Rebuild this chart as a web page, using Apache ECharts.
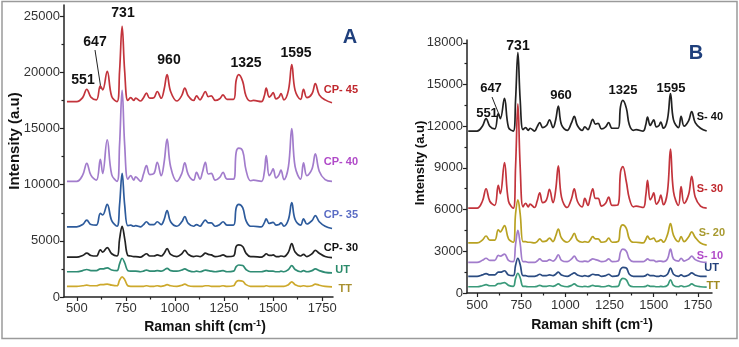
<!DOCTYPE html>
<html>
<head>
<meta charset="utf-8">
<script src="https://cdn.jsdelivr.net/npm/echarts@6/dist/echarts.min.js"></script>
<style>
  html, body { margin: 0; padding: 0; background: #fff; }
  #main { width: 739px; height: 347px; }
</style>
</head>
<body>
<div id="main"></div>
<script>
// Raman shift sample positions (cm-1), shared by every spectrum
var shift = [450, 500, 530, 551, 572, 600, 620, 632, 655, 678, 705, 718, 731, 744, 760, 775, 790, 800, 825, 840,
    855, 872, 893, 910, 930, 945, 960, 978, 1010, 1035, 1050, 1068, 1095, 1110, 1128, 1140, 1155, 1170, 1185, 1205,
    1228, 1245, 1265, 1298, 1312, 1325, 1345, 1362, 1385, 1400, 1440, 1455, 1465, 1480, 1490, 1500, 1515, 1530, 1540, 1555,
    1578, 1595, 1612, 1640, 1655, 1672, 1698, 1715, 1735, 1765, 1800];

// panel A
var cp45 = [17400, 17400, 17750, 18500, 17800, 17550, 18800, 18450, 20100, 17850, 17400, 20100, 24100, 20100, 17500, 17750, 17500, 17700, 17450, 17750,
    18150, 17700, 17750, 18300, 17700, 18500, 19800, 18300, 17450, 17950, 18600, 17900, 17500, 17900, 17550, 17850, 18300, 17850, 17900, 17500,
    17650, 18000, 17600, 17600, 19300, 19800, 19200, 17900, 17450, 17500, 17400, 17900, 18600, 17800, 17950, 18200, 17650, 17800, 18100, 17550,
    18400, 20700, 18400, 17600, 18500, 17750, 18100, 19000, 18000, 17550, 17300];
var cp40 = [10300, 10300, 10850, 11900, 10850, 10400, 12250, 11000, 14000, 10900, 10300, 13550, 18400, 13550, 10500, 10800, 10400, 10700, 10300, 10950,
    11700, 10900, 11000, 12000, 10800, 12000, 14050, 11600, 10300, 11000, 11950, 10900, 10400, 11100, 10500, 11100, 12000, 10950, 11000, 10400,
    10650, 11100, 10500, 10500, 12900, 13250, 13000, 11300, 10350, 10400, 10300, 11100, 12600, 10800, 11050, 11400, 10600, 10900, 11300, 10450,
    11600, 15000, 11600, 10500, 11950, 10800, 11400, 12750, 11200, 10450, 10300];
var cp35 = [6250, 6250, 6450, 6850, 6450, 6400, 7450, 7300, 8250, 6800, 6300, 8200, 11000, 8200, 6350, 6400, 6300, 6350, 6250, 6450,
    6700, 6450, 6450, 6700, 6450, 6900, 7700, 6700, 6300, 6700, 7150, 6550, 6300, 6450, 6300, 6550, 6850, 6600, 6600, 6300,
    6450, 6700, 6400, 6400, 7950, 8250, 7950, 6800, 6300, 6300, 6250, 6600, 6950, 6550, 6600, 6650, 6400, 6450, 6600, 6300,
    6900, 8400, 6900, 6400, 6950, 6500, 6800, 7250, 6700, 6300, 6100];
var cp30 = [3550, 3550, 3700, 3900, 3700, 3650, 4200, 4000, 4400, 3850, 3650, 5150, 6300, 5200, 3700, 3650, 3600, 3600, 3550, 3700,
    3850, 3650, 3650, 3750, 3650, 3900, 4300, 3800, 3600, 3850, 4150, 3800, 3600, 3650, 3600, 3700, 3900, 3800, 3750, 3600,
    3650, 3750, 3600, 3650, 4500, 4650, 4500, 3900, 3600, 3600, 3550, 3700, 3850, 3700, 3700, 3750, 3600, 3600, 3650, 3600,
    4000, 4750, 4000, 3650, 3800, 3600, 3850, 4150, 3900, 3600, 3500];
var utA = [2250, 2250, 2350, 2450, 2350, 2350, 2500, 2500, 2600, 2400, 2350, 2950, 3450, 3050, 2350, 2300, 2300, 2300, 2250, 2300,
    2400, 2300, 2300, 2350, 2300, 2400, 2550, 2350, 2300, 2400, 2500, 2350, 2250, 2300, 2250, 2300, 2400, 2350, 2300, 2250,
    2300, 2350, 2250, 2300, 2700, 2850, 2800, 2450, 2250, 2250, 2250, 2300, 2350, 2300, 2300, 2300, 2250, 2250, 2300, 2250,
    2450, 2800, 2450, 2250, 2350, 2250, 2350, 2500, 2350, 2200, 2150];
var ttA = [950, 950, 1000, 1050, 1000, 1000, 1100, 1100, 1150, 1050, 1000, 1500, 1800, 1550, 1000, 950, 950, 950, 950, 950,
    1000, 950, 950, 1000, 950, 1000, 1100, 1000, 950, 1050, 1150, 1000, 950, 950, 950, 950, 1000, 1000, 950, 950,
    950, 1000, 950, 1000, 1350, 1450, 1400, 1100, 950, 950, 950, 950, 1000, 950, 950, 950, 950, 950, 950, 950,
    1100, 1350, 1100, 950, 1000, 950, 1000, 1150, 1050, 950, 900];

// panel B
var s40 = [11650, 11650, 12000, 12550, 12000, 11800, 12900, 12550, 14000, 11900, 11650, 13900, 17300, 13900, 11750, 11900, 11700, 11850, 11650, 11950,
    12250, 11900, 12050, 12450, 11900, 12450, 13450, 12100, 11700, 12250, 12700, 12050, 11700, 11950, 11750, 12050, 12500, 12150, 12200, 11800,
    11950, 12250, 11850, 11850, 13400, 13850, 13300, 12100, 11700, 11750, 11650, 12100, 12650, 12050, 12250, 12450, 11950, 12050, 12300, 11850,
    12500, 14350, 12450, 11900, 12700, 12000, 12400, 13050, 12250, 11850, 11650];
var s30 = [6100, 6100, 6600, 7500, 6600, 6300, 7750, 7150, 9380, 6600, 6100, 9100, 13600, 9100, 6200, 6450, 6200, 6400, 6150, 6600,
    7200, 6500, 6700, 7450, 6500, 7400, 9150, 6900, 6150, 6800, 7500, 6600, 6200, 6800, 6300, 6850, 7500, 6800, 6800, 6250,
    6450, 6900, 6300, 6350, 8700, 9100, 8000, 6800, 6200, 6250, 6150, 7000, 8100, 6700, 6900, 7200, 6400, 6650, 7050, 6350,
    7300, 10350, 7300, 6300, 7650, 6450, 7100, 8400, 6900, 6250, 6100];
var s20 = [3600, 3600, 3800, 4100, 3800, 3800, 4550, 4400, 4850, 3900, 3650, 5700, 6700, 5700, 3700, 3700, 3650, 3650, 3600, 3700,
    3900, 3700, 3750, 3950, 3700, 4100, 4600, 3950, 3650, 3950, 4300, 3800, 3650, 3700, 3650, 3800, 4050, 3900, 3900, 3650,
    3700, 3950, 3650, 3700, 4700, 4900, 4650, 3900, 3650, 3650, 3600, 3850, 4100, 3850, 3900, 3950, 3700, 3750, 3850, 3650,
    4200, 5000, 4150, 3700, 4050, 3700, 4050, 4400, 4000, 3600, 3450];
var s10 = [2200, 2200, 2350, 2500, 2350, 2350, 2700, 2650, 2800, 2350, 2250, 3500, 4500, 3550, 2250, 2250, 2200, 2200, 2200, 2300,
    2450, 2300, 2300, 2400, 2300, 2450, 2750, 2350, 2250, 2450, 2650, 2350, 2250, 2300, 2250, 2350, 2450, 2400, 2350, 2250,
    2300, 2450, 2250, 2300, 2950, 3150, 3000, 2450, 2250, 2250, 2250, 2350, 2450, 2350, 2350, 2350, 2250, 2300, 2300, 2250,
    2450, 3150, 2450, 2300, 2500, 2300, 2450, 2650, 2400, 2250, 2200];
var utB = [1200, 1200, 1300, 1400, 1300, 1300, 1500, 1500, 1600, 1300, 1250, 2000, 2500, 2050, 1250, 1250, 1200, 1200, 1200, 1250,
    1350, 1250, 1250, 1300, 1250, 1350, 1500, 1300, 1200, 1350, 1450, 1300, 1200, 1250, 1200, 1250, 1350, 1300, 1300, 1200,
    1250, 1350, 1200, 1250, 1700, 1850, 1800, 1350, 1200, 1200, 1200, 1250, 1350, 1250, 1250, 1250, 1200, 1200, 1250, 1200,
    1350, 1800, 1350, 1200, 1300, 1200, 1300, 1450, 1300, 1200, 1200];
var ttB = [450, 450, 520, 600, 520, 520, 680, 680, 750, 550, 480, 1050, 1420, 1100, 480, 470, 450, 450, 450, 480,
    550, 480, 480, 520, 480, 550, 650, 520, 450, 550, 650, 500, 450, 480, 450, 480, 550, 500, 500, 450,
    470, 530, 450, 480, 900, 1050, 950, 550, 450, 450, 450, 480, 550, 480, 480, 480, 450, 450, 470, 450,
    550, 950, 550, 450, 520, 450, 520, 650, 520, 450, 420];

// ticks
var xTicks = [500, 750, 1000, 1250, 1500, 1750];
var xMinor = [625, 875, 1125, 1375, 1625];
var yTicksA = [0, 5000, 10000, 15000, 20000, 25000];
var yMinorA = [2500, 7500, 12500, 17500, 22500];
var yTicksB = [0, 3000, 6000, 9000, 12000, 15000, 18000];
var yMinorB = [1500, 4500, 7500, 10500, 13500, 16500];

// peak labels
var peaks = ['551', '647', '731', '960', '1325', '1595'];

var FONT = '"Liberation Sans", Arial, sans-serif';

function pairs(ys) {
    return shift.map(function (x, i) { return [x, ys[i]]; });
}

function line(name, ys, color, idx) {
    return {
        name: name,
        type: 'line',
        xAxisIndex: idx * 2,
        yAxisIndex: idx * 2,
        data: pairs(ys),
        showSymbol: false,
        smooth: 0.4,
        lineStyle: { color: color, width: 1.7 },
        silent: true
    };
}

function plain(v) { return String(v); }

function xAxes(grid, min, max, labelMargin) {
    return [{
        gridIndex: grid, type: 'value', min: min, max: max, position: 'bottom',
        splitLine: { show: false },
        axisLine: { lineStyle: { color: '#222', width: 1.5 } },
        axisTick: { customValues: xTicks, length: 4, lineStyle: { color: '#222', width: 1.2 } },
        axisLabel: { customValues: xTicks, formatter: plain, margin: labelMargin, color: '#333', fontSize: 13, fontFamily: FONT }
    }, {
        gridIndex: grid, type: 'value', min: min, max: max, position: 'bottom',
        splitLine: { show: false },
        axisLine: { show: false },
        axisTick: { customValues: xMinor, length: 2.5, lineStyle: { color: '#222', width: 1.2 } },
        axisLabel: { show: false }
    }];
}

function yAxes(grid, max, ticks, minor) {
    return [{
        gridIndex: grid, type: 'value', min: 0, max: max, position: 'left',
        splitLine: { show: false },
        axisLine: { show: true, lineStyle: { color: '#222', width: 1.5 } },
        axisTick: { show: true, customValues: ticks, length: 4, lineStyle: { color: '#222', width: 1.2 } },
        axisLabel: { customValues: ticks, formatter: plain, margin: 4, color: '#333', fontSize: 13, fontFamily: FONT }
    }, {
        gridIndex: grid, type: 'value', min: 0, max: max, position: 'left',
        splitLine: { show: false },
        axisLine: { show: false },
        axisTick: { show: true, customValues: minor, length: 2.5, lineStyle: { color: '#222', width: 1.2 } },
        axisLabel: { show: false }
    }];
}

function txt(s, x, y, color, font, align) {
    return {
        type: 'text', silent: true,
        style: { text: s, x: x, y: y, fill: color, font: font, align: align || 'center', verticalAlign: 'middle' }
    };
}

function title(x, y, size) {
    return {
        type: 'text', silent: true,
        style: {
            text: '{b|Raman shift (cm}{s|-1}{b|)}', x: x, y: y, align: 'center', verticalAlign: 'middle',
            rich: {
                b: { font: 'bold ' + size + 'px ' + FONT, fill: '#111', lineHeight: size + 2 },
                s: { font: 'bold ' + (size - 5) + 'px ' + FONT, fill: '#111', verticalAlign: 'top', lineHeight: size + 2 }
            }
        }
    };
}

function yTitle(x, y, size) {
    return {
        type: 'text', silent: true, x: x, y: y, rotation: Math.PI / 2,
        style: { text: 'Intensity (a.u)', x: 0, y: 0, fill: '#111', font: 'bold ' + size + 'px ' + FONT, align: 'center', verticalAlign: 'middle' }
    };
}

var myChart = echarts.init(document.getElementById('main'));

var option = {
    animation: false,
    backgroundColor: '#fff',
    grid: [
        { left: 64, top: 5, width: 269, height: 292 },
        { left: 467, top: 40, width: 245, height: 253 }
    ],
    xAxis: xAxes(0, 435, 1805, 5).concat(xAxes(1, 443, 1830, 6)),
    yAxis: yAxes(0, 26000, yTicksA, yMinorA).concat(yAxes(1, 18200, yTicksB, yMinorB)),
    series: [
        line('CP- 45', cp45, '#c3343c', 0),
        line('CP- 40', cp40, '#a27ccc', 0),
        line('CP- 35', cp35, '#2d5b9c', 0),
        line('CP- 30', cp30, '#222222', 0),
        line('UT', utA, '#2f8c74', 0),
        line('TT', ttA, '#cda92c', 0),
        line('S- 40', s40, '#222222', 1),
        line('S- 30', s30, '#c3343c', 1),
        line('S- 20', s20, '#b9a222', 1),
        line('S- 10', s10, '#a27ccc', 1),
        line('UT', utB, '#2b4c82', 1),
        line('TT', ttB, '#3a9a7a', 1)
    ],
    graphic: [
        { type: 'rect', silent: true, shape: { x: 2, y: 1.5, width: 735, height: 337 }, style: { fill: 'none', stroke: '#9a9a9a', lineWidth: 1.5 } },

        // panel A
        txt(peaks[0], 83, 80, '#111', 'bold 14px ' + FONT),
        txt(peaks[1], 95, 42, '#111', 'bold 14px ' + FONT),
        txt(peaks[2], 123, 13, '#111', 'bold 14px ' + FONT),
        txt(peaks[3], 169, 60, '#111', 'bold 14px ' + FONT),
        txt(peaks[4], 246, 63, '#111', 'bold 14px ' + FONT),
        txt(peaks[5], 296, 53, '#111', 'bold 14px ' + FONT),
        { type: 'line', silent: true, shape: { x1: 95, y1: 50, x2: 101, y2: 89 }, style: { stroke: '#222', lineWidth: 1 } },
        txt('A', 350, 37, '#1f3f7c', 'bold 20px ' + FONT),
        txt('CP- 45', 358, 90, '#c0282e', 'bold 11px ' + FONT, 'right'),
        txt('CP- 40', 358, 162, '#b04ac8', 'bold 11px ' + FONT, 'right'),
        txt('CP- 35', 358, 215, '#5a6cc4', 'bold 11px ' + FONT, 'right'),
        txt('CP- 30', 358, 248, '#111', 'bold 11px ' + FONT, 'right'),
        txt('UT', 350, 270, '#2a8a6a', 'bold 11px ' + FONT, 'right'),
        txt('TT', 352, 289, '#a89030', 'bold 11px ' + FONT, 'right'),
        yTitle(15, 141, 15),
        title(205, 327, 14),

        // panel B
        txt(peaks[0], 487, 113, '#111', 'bold 13px ' + FONT),
        txt(peaks[1], 491, 88, '#111', 'bold 13px ' + FONT),
        txt(peaks[2], 518, 46, '#111', 'bold 14px ' + FONT),
        txt(peaks[3], 561, 95, '#111', 'bold 13px ' + FONT),
        txt(peaks[4], 623, 90, '#111', 'bold 13px ' + FONT),
        txt(peaks[5], 671, 88, '#111', 'bold 13px ' + FONT),
        { type: 'line', silent: true, shape: { x1: 492, y1: 97, x2: 500, y2: 117 }, style: { stroke: '#222', lineWidth: 1 } },
        txt('B', 696, 53, '#1f3f7c', 'bold 20px ' + FONT),
        txt('S- 40', 723, 117, '#111', 'bold 11px ' + FONT, 'right'),
        txt('S- 30', 723, 189, '#c0282e', 'bold 11px ' + FONT, 'right'),
        txt('S- 20', 725, 233, '#a89a30', 'bold 11px ' + FONT, 'right'),
        txt('S- 10', 723, 256, '#b04ac8', 'bold 11px ' + FONT, 'right'),
        txt('UT', 719, 268, '#22407a', 'bold 11px ' + FONT, 'right'),
        txt('TT', 720, 286, '#a08a20', 'bold 11px ' + FONT, 'right'),
        yTitle(420, 163, 13),
        title(592, 325, 14)
    ]
};

myChart.setOption(option);
</script>
</body>
</html>
